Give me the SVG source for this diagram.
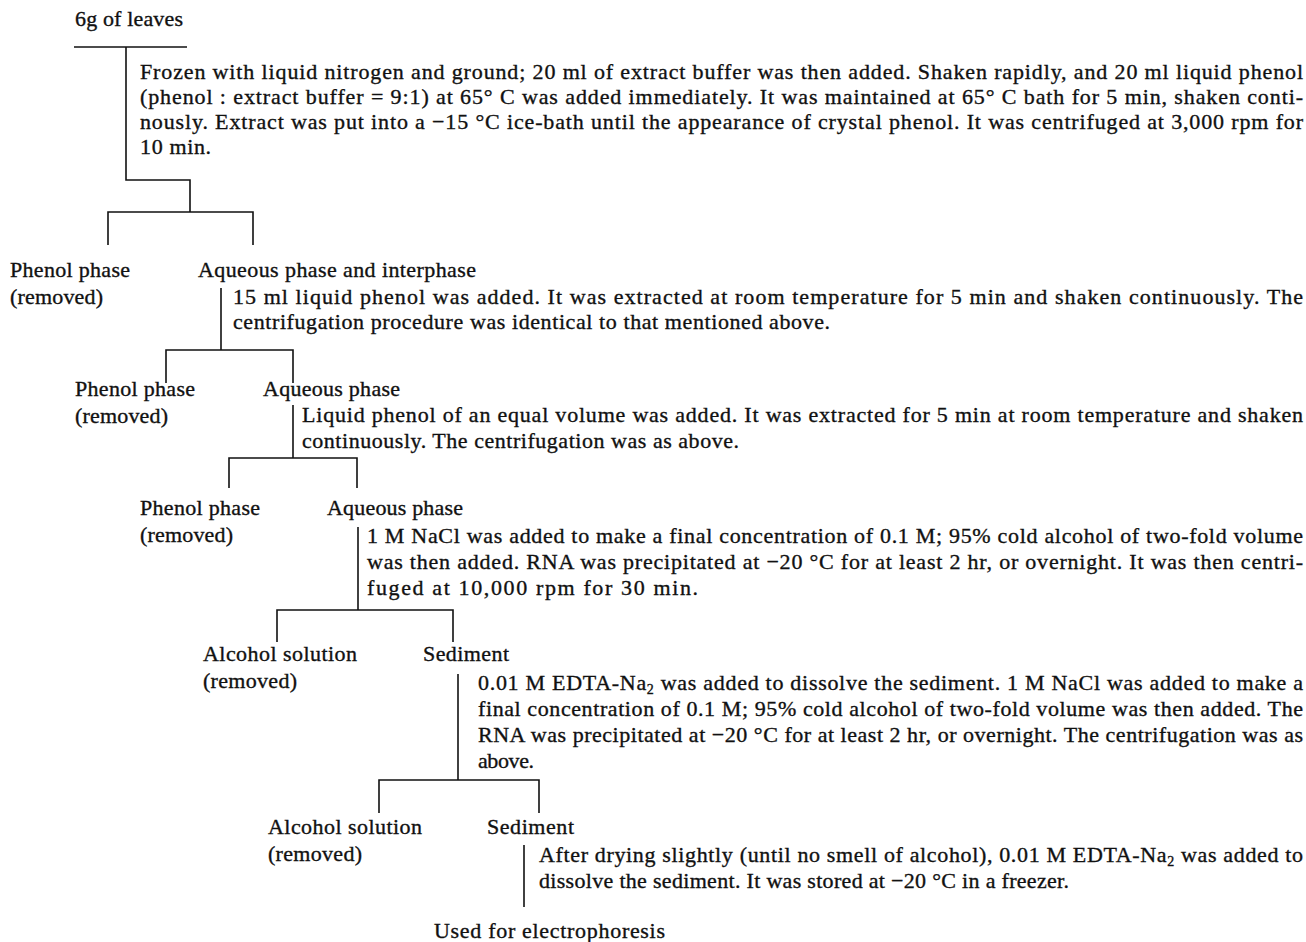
<svg xmlns="http://www.w3.org/2000/svg" width="1306" height="942" viewBox="0 0 1306 942">
<style>
text{font-family:"Liberation Serif","Times New Roman",serif;font-size:22px;fill:#111;stroke:#111;stroke-width:0.35}
.c path{fill:none;stroke:#111;stroke-width:1.6}
</style>
<rect width="1306" height="942" fill="#fff"/>
<g class="c" id="connectors">
<path d="M74,47 H187"/>
<path d="M126,47 V180 H190 V212"/>
<path d="M108,245 V212 H253 V245"/>
<path d="M221,288 V350"/>
<path d="M166,383 V350 H293 V383"/>
<path d="M293,405 V458"/>
<path d="M229,488 V458 H357 V488"/>
<path d="M358,527 V610"/>
<path d="M277,642 V610 H453 V642"/>
<path d="M458,674 V780"/>
<path d="M379,813 V780 H539 V813"/>
<path d="M524,845 V907"/>
</g>
<g id="leaves"><text x="75" y="26" textLength="108" lengthAdjust="spacing">6g of leaves</text></g>
<g id="step1">
<text x="140" y="79" textLength="1163" lengthAdjust="spacing">Frozen with liquid nitrogen and ground; 20 ml of extract buffer was then added. Shaken rapidly, and 20 ml liquid phenol</text>
<text x="140" y="104" textLength="1163" lengthAdjust="spacing">(phenol : extract buffer = 9:1) at 65° C was added immediately. It was maintained at 65° C bath for 5 min, shaken conti-</text>
<text x="140" y="129" textLength="1163" lengthAdjust="spacing">nously. Extract was put into a −15 °C ice-bath until the appearance of crystal phenol. It was centrifuged at 3,000 rpm for</text>
<text x="140" y="154" textLength="71" lengthAdjust="spacing">10 min.</text>
</g>
<g id="phenol1"><text x="10" y="277" textLength="120" lengthAdjust="spacing">Phenol phase</text><text x="10" y="304" textLength="93" lengthAdjust="spacing">(removed)</text></g>
<g id="aqueous1"><text x="198" y="277" textLength="278" lengthAdjust="spacing">Aqueous phase and interphase</text></g>
<g id="step2">
<text x="233" y="304" textLength="1070" lengthAdjust="spacing">15 ml liquid phenol was added. It was extracted at room temperature for 5 min and shaken continuously. The</text>
<text x="233" y="329" textLength="597" lengthAdjust="spacing">centrifugation procedure was identical to that mentioned above.</text>
</g>
<g id="phenol2"><text x="75" y="396" textLength="120" lengthAdjust="spacing">Phenol phase</text><text x="75" y="423" textLength="93" lengthAdjust="spacing">(removed)</text></g>
<g id="aqueous2"><text x="263" y="396" textLength="137" lengthAdjust="spacing">Aqueous phase</text></g>
<g id="step3">
<text x="302" y="422" textLength="1001" lengthAdjust="spacing">Liquid phenol of an equal volume was added. It was extracted for 5 min at room temperature and shaken</text>
<text x="302" y="448" textLength="437" lengthAdjust="spacing">continuously. The centrifugation was as above.</text>
</g>
<g id="phenol3"><text x="140" y="515" textLength="120" lengthAdjust="spacing">Phenol phase</text><text x="140" y="542" textLength="93" lengthAdjust="spacing">(removed)</text></g>
<g id="aqueous3"><text x="327" y="515" textLength="136" lengthAdjust="spacing">Aqueous phase</text></g>
<g id="step4">
<text x="367" y="543" textLength="936" lengthAdjust="spacing">1 M NaCl was added to make a final concentration of 0.1 M; 95% cold alcohol of two-fold volume</text>
<text x="367" y="569" textLength="936" lengthAdjust="spacing">was then added. RNA was precipitated at −20 °C for at least 2 hr, or overnight. It was then centri-</text>
<text x="367" y="595" textLength="331" lengthAdjust="spacing">fuged at 10,000 rpm for 30 min.</text>
</g>
<g id="alcohol1"><text x="203" y="661" textLength="154" lengthAdjust="spacing">Alcohol solution</text><text x="203" y="688" textLength="94" lengthAdjust="spacing">(removed)</text></g>
<g id="sediment1"><text x="423" y="661" textLength="86" lengthAdjust="spacing">Sediment</text></g>
<g id="step5">
<text x="478" y="690" textLength="825" lengthAdjust="spacing">0.01 M EDTA-Na<tspan dy="4" font-size="14">2</tspan><tspan dy="-4"> was added to dissolve the sediment. 1 M NaCl was added to make a</tspan></text>
<text x="478" y="716" textLength="825" lengthAdjust="spacing">final concentration of 0.1 M; 95% cold alcohol of two-fold volume was then added. The</text>
<text x="478" y="742" textLength="825" lengthAdjust="spacing">RNA was precipitated at −20 °C for at least 2 hr, or overnight. The centrifugation was as</text>
<text x="478" y="768" textLength="56" lengthAdjust="spacing">above.</text>
</g>
<g id="alcohol2"><text x="268" y="834" textLength="154" lengthAdjust="spacing">Alcohol solution</text><text x="268" y="861" textLength="94" lengthAdjust="spacing">(removed)</text></g>
<g id="sediment2"><text x="487" y="834" textLength="87" lengthAdjust="spacing">Sediment</text></g>
<g id="step6">
<text x="539" y="862" textLength="764" lengthAdjust="spacing">After drying slightly (until no smell of alcohol), 0.01 M EDTA-Na<tspan dy="4" font-size="14">2</tspan><tspan dy="-4"> was added to</tspan></text>
<text x="539" y="888" textLength="530" lengthAdjust="spacing">dissolve the sediment. It was stored at −20 °C in a freezer.</text>
</g>
<g id="used"><text x="434" y="938" textLength="231" lengthAdjust="spacing">Used for electrophoresis</text></g>
</svg>
